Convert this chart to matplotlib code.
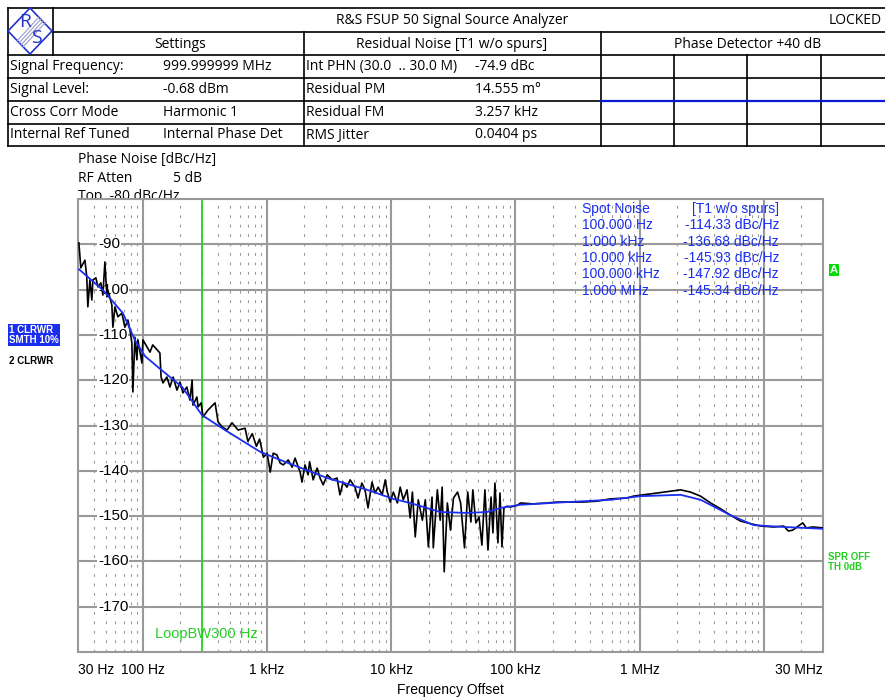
import numpy as np
import matplotlib
matplotlib.use("Agg")
import matplotlib.pyplot as plt
from matplotlib.transforms import blended_transform_factory

# --- data ---
freq_raw = [30.5, 31.6, 34.1, 35.3, 36.0, 37.4, 38.8, 39.5, 41.8, 43.4, 45.8, 47.6, 49.4,
            51.3, 52.2, 56.2, 57.3, 59.5, 62.9, 67.7, 71.6, 75.7, 78.6, 81.5, 83.0, 86.2,
            89.4, 91.1, 98.2, 100, 108, 114, 120, 130, 137, 140, 145, 156, 165, 175, 188,
            199, 210, 226, 239, 249, 253, 272, 278, 294, 305, 334, 381, 403, 434, 476, 522,
            584, 665, 700, 760, 820, 870, 935, 1000, 1060, 1120, 1200, 1275, 1350, 1480,
            1590, 1680, 1845, 1910, 2020, 2140, 2200, 2350, 2530, 2670, 2830, 3050, 3350,
            3660, 3860, 4100, 4400, 4660, 5100, 5400, 5800, 6150, 6500, 7000, 7400, 7850,
            8450, 8950, 9300, 9800, 10400, 11200, 11800, 12500, 13400, 14200, 14800, 15600,
            16500, 17800, 18800, 19900, 21300, 21800, 23500, 24800, 25700, 26700, 28300,
            30000, 31700, 34200, 36200, 38900, 41300, 43800, 45400, 48000, 50900, 53700,
            56800, 60100, 63600, 65900, 68400, 72300, 75100, 77900, 80800, 86000, 91000,
            104e3, 110e3, 138e3, 180e3, 216e3, 277e3, 352e3, 455e3, 580e3, 790e3, 890e3,
            1.07e6, 1.39e6, 1.77e6, 2.14e6, 2.57e6, 3.1e6, 3.73e6, 4.5e6, 5.4e6, 6.5e6,
            7.9e6, 9.5e6, 12e6, 14.5e6, 15.8e6, 17.1e6, 20.6e6, 22e6, 24.8e6, 30e6]
pn_raw = [-89.7, -95.2, -93.5, -97.2, -103.8, -97.9, -102.3, -97.9, -97.4, -99.4, -98.5,
          -101.2, -93.9, -101.6, -100.1, -103.4, -108.3, -103.8, -106.0, -105.2, -108.3,
          -106.7, -108.9, -111.8, -122.6, -110.5, -115.5, -111.1, -116.2, -111.1, -112.7,
          -113.8, -112.2, -113.3, -114.0, -119.3, -120.6, -119.3, -121.5, -119.3, -122.2,
          -120.4, -122.8, -121.5, -124.4, -120.0, -125.5, -123.7, -125.9, -125.0, -128.1,
          -126.6, -125.0, -129.2, -130.3, -131.0, -129.4, -131.0, -130.6, -133.5, -131.8,
          -134.6, -133.0, -137.0, -136.1, -140.3, -136.1, -136.5, -138.3, -138.7, -137.6,
          -139.2, -137.2, -140.3, -142.5, -138.7, -140.9, -138.0, -142.0, -139.4, -141.6,
          -143.1, -140.9, -142.0, -141.6, -145.3, -142.5, -143.6, -142.0, -143.6, -146.0,
          -142.7, -144.2, -148.2, -142.5, -144.9, -143.6, -145.3, -142.0, -144.7, -146.9,
          -144.7, -147.1, -143.6, -146.4, -144.2, -150.4, -144.7, -154.6, -146.4, -150.9,
          -146.4, -156.8, -145.8, -157.0, -144.2, -150.9, -143.6, -162.3, -147.1, -153.1,
          -146.0, -144.7, -147.1, -157.0, -144.7, -151.3, -144.2, -151.5, -150.2, -156.4,
          -144.2, -157.5, -145.8, -153.7, -142.7, -155.9, -144.9, -156.8, -148.2, -147.8,
          -148.0, -147.6, -147.1, -147.3, -147.1, -146.9, -146.9, -146.9, -146.7, -146.2,
          -146.0, -145.6, -145.3, -144.9, -144.5, -144.2, -144.7, -145.6, -147.1, -148.4,
          -149.8, -151.1, -151.7, -152.2, -152.4, -152.2, -153.3, -153.1, -151.5, -152.6,
          -152.4, -152.6]

freq_smooth = [30.5, 47.6, 69, 86, 104, 132, 207, 299, 458, 879, 1274, 3048, 6400, 10380,
               14200, 24800, 41000, 59400, 75700, 110e3, 262e3, 583e3, 1.02e6, 2.14e6,
               3.1e6, 5.4e6, 8.3e6, 14.5e6, 30e6]
pn_smooth = [-95.5, -100.1, -105.2, -111.1, -114.7, -117.1, -121.5, -127.7, -131.0, -135.8,
             -137.6, -141.6, -144.2, -146.2, -147.1, -149.1, -149.3, -149.1, -148.2, -147.5,
             -146.9, -146.4, -145.6, -145.3, -146.4, -149.8, -152.0, -152.4, -152.8]

y_ticks = [-90, -100, -110, -120, -130, -140, -150, -160, -170]
x_ticks = [30, 100, 1e3, 1e4, 1e5, 1e6, 3e7]
x_labels = ["30 Hz", "100 Hz", "1 kHz", "10 kHz", "100 kHz", "1 MHz", "30 MHz"]

spot_freqs = ["100.000 Hz", "1.000 kHz", "10.000 kHz", "100.000 kHz", "1.000 MHz"]
spot_vals = ["-114.33 dBc/Hz", "-136.68 dBc/Hz", "-145.93 dBc/Hz", "-147.92 dBc/Hz",
             "-145.34 dBc/Hz"]

settings_names = ["Signal Frequency:", "Signal Level:", "Cross Corr Mode", "Internal Ref Tuned"]
settings_vals = ["999.999999 MHz", "-0.68 dBm", "Harmonic 1", "Internal Phase Det"]
resid_names = ["Int PHN (30.0  .. 30.0 M)", "Residual PM", "Residual FM", "RMS Jitter"]
resid_vals = ["-74.9 dBc", "14.555 m°", "3.257 kHz", "0.0404 ps"]
loop_bw = 300

NARROW = ["Liberation Sans", "DejaVu Sans"]
SANS = ["Open Sans", "DejaVu Sans"]
GREEN = "#22d022"
BLUE = "#1a2ef0"

W, H = 885, 699
fig = plt.figure(figsize=(W / 100, H / 100), dpi=100)

# background layer in pixel coordinates for the header table
bg = fig.add_axes([0, 0, 1, 1], zorder=-2)
bg.set_xlim(0, W)
bg.set_ylim(H, 0)
bg.axis("off")

lk = dict(color="black", lw=1.2)
bg.plot([8, W], [8, 8], **lk)
bg.plot([53, W], [32, 32], **lk)
bg.plot([8, W], [55, 55], **lk)
bg.plot([8, W], [78, 78], **lk)
bg.plot([8, 601], [101, 101], **lk)
bg.plot([8, W], [124, 124], **lk)
bg.plot([8, W], [146, 146], **lk)
bg.plot([8, 8], [8, 146], **lk)
bg.plot([53, 53], [8, 55], **lk)
for xv in [304, 601]:
    bg.plot([xv, xv], [32, 146], **lk)
for xv in [674, 747, 821]:
    bg.plot([xv, xv], [55, 146], **lk)
bg.plot([601, W], [101, 101], color="#0a1ad0", lw=1.6)

# R&S logo
bg.plot([30, 52, 30, 8, 30], [8, 31, 54, 31, 8], color="#2233cc", lw=1.2)
for d in range(-3, 4, 2):
    bg.plot([20 + d, 42 + d], [44 + d, 20 + d], color="#9a9ac8", lw=0.8)
bg.text(25, 22, "R", fontsize=14, color="#2233cc", ha="center", va="center", family=SANS)
bg.text(36, 38, "S", fontsize=14, color="#2233cc", ha="center", va="center", family=SANS)

tk = dict(fontsize=10, va="center", family=SANS)
bg.text(452, 20, "R&S FSUP 50 Signal Source Analyzer", ha="center", **tk)
bg.text(882, 20, "LOCKED", ha="right", **tk)
bg.text(180, 44, "Settings", ha="center", **tk)
bg.text(452, 44, "Residual Noise [T1 w/o spurs]", ha="center", **tk)
bg.text(748, 44, "Phase Detector +40 dB", ha="center", **tk)
row_y = [66.5, 89.5, 112.5, 135]
for i, yy in enumerate(row_y):
    bg.text(10, yy, settings_names[i], ha="left", **tk)
    bg.text(163, yy, settings_vals[i], ha="left", **tk)
    bg.text(306, yy, resid_names[i], ha="left", **tk)
    bg.text(475, yy, resid_vals[i], ha="left", **tk)

# header above plot (partly hidden by plot frame)
fig.text(78 / W, 1 - 160 / H, "Phase Noise [dBc/Hz]", fontsize=10, va="center", family=SANS)
fig.text(78 / W, 1 - 178 / H, "RF Atten", fontsize=10, va="center", family=SANS)
fig.text(173 / W, 1 - 178 / H, "5 dB", fontsize=10, va="center", family=SANS)
fig.text(78 / W, 1 - 197 / H, "Top  -80 dBc/Hz", fontsize=10, va="center", family=SANS,
         zorder=-1)

# --- main plot ---
ax = fig.add_axes([78 / W, 1 - 652 / H, (823 - 78) / W, (652 - 199) / H])
ax.set_xscale("log")
ax.set_xlim(30, 3e7)
ax.set_ylim(-180, -80)

ax.set_yticks(np.arange(-180, -79, 10))
ax.set_yticklabels([])
ax.tick_params(axis="y", length=0)
ax.set_xticks(x_ticks)
ax.set_xticklabels(x_labels, family=NARROW, fontsize=10)
ax.tick_params(axis="x", which="both", length=0, pad=8)
xl = ax.get_xticklabels()
xl[0].set_horizontalalignment("left")
xl[-1].set_horizontalalignment("right")
ax.xaxis.set_minor_locator(matplotlib.ticker.LogLocator(base=10, subs=np.arange(2, 10)))
ax.xaxis.set_minor_formatter(matplotlib.ticker.NullFormatter())

for dec in [1e2, 1e3, 1e4, 1e5, 1e6, 1e7]:
    ax.axvline(dec, color="#999999", lw=1.5, zorder=1)
for yv in np.arange(-170, -80, 10):
    ax.axhline(yv, color="#999999", lw=1.5, zorder=1)
ax.grid(True, which="minor", axis="x", color="#999999", lw=0.8, linestyle=(0, (2.5, 6)))
for s in ax.spines.values():
    s.set_color("#999999")
    s.set_linewidth(1.5)

ax.axvline(loop_bw, color=GREEN, lw=1.3, zorder=2)
ax.text(124, -176, "LoopBW300 Hz", color=GREEN, fontsize=10.5, family=NARROW, va="center",
        ha="left", zorder=3)

ax.plot(freq_raw, pn_raw, color="black", lw=1.2, zorder=4)
ax.plot(freq_smooth, pn_smooth, color=BLUE, lw=1.3, zorder=5)

ytr = blended_transform_factory(ax.transAxes, ax.transData)
for yv in y_ticks:
    ax.text(0.027, yv, str(yv), transform=ytr, fontsize=11, family=NARROW, va="center",
            ha="left", zorder=3,
            bbox=dict(facecolor="white", edgecolor="none", pad=0.5))

ax.set_xlabel("Frequency Offset", family=NARROW, fontsize=10, labelpad=4)

# spot noise box
sp_x0 = (582 - 78) / (823 - 78)
sp_x1 = (779 - 78) / (823 - 78)
sp_y = [209, 225, 242, 258, 274, 291]
def ay(py):
    return 1 - (py - 199) / (652 - 199)
ax.text(sp_x0, ay(sp_y[0]), "Spot Noise", transform=ax.transAxes, color=BLUE, fontsize=10,
        family=NARROW, va="center", ha="left", zorder=6)
ax.text(sp_x1, ay(sp_y[0]), "[T1 w/o spurs]", transform=ax.transAxes, color=BLUE, fontsize=10,
        family=NARROW, va="center", ha="right", zorder=6)
for i in range(len(spot_freqs)):
    ax.text(sp_x0, ay(sp_y[i + 1]), spot_freqs[i], transform=ax.transAxes, color=BLUE,
            fontsize=10, family=NARROW, va="center", ha="left", zorder=6)
    ax.text(sp_x1, ay(sp_y[i + 1]), spot_vals[i], transform=ax.transAxes, color=BLUE,
            fontsize=10, family=NARROW, va="center", ha="right", zorder=6)

# side annotations
fig.text(9 / W, 1 - 335 / H, "1 CLRWR\nSMTH 10%", fontsize=7, weight="bold", color="white",
         family=NARROW, va="center", ha="left", linespacing=0.95,
         bbox=dict(facecolor="#1a2ef0", edgecolor="none", pad=1))
fig.text(9 / W, 1 - 361 / H, "2 CLRWR", fontsize=7, weight="bold", color="black",
         family=NARROW, va="center", ha="left")
fig.text(834 / W, 1 - 270 / H, "A", fontsize=8, weight="bold", color="white",
         family=NARROW, va="center", ha="center",
         bbox=dict(facecolor="#00dd00", edgecolor="none", pad=1))
fig.text(828 / W, 1 - 562 / H, "SPR OFF\nTH 0dB", fontsize=7, weight="bold", color=GREEN,
         family=NARROW, va="center", ha="left", linespacing=0.95)

fig.savefig("out.png", dpi=100)
